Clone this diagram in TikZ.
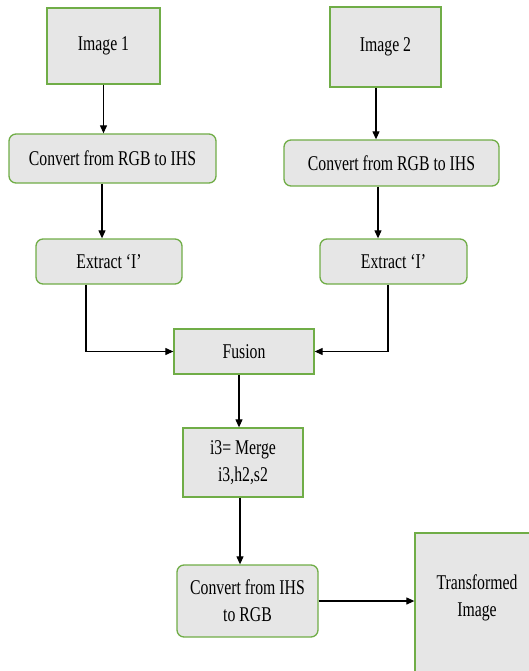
\documentclass[tikz,border=0pt]{standalone}
\usepackage{fontspec}
\setmainfont[FakeStretch=0.75]{Liberation Serif}
\usetikzlibrary{arrows.meta}
\definecolor{boxgreen}{HTML}{70AD47}
\definecolor{boxgray}{HTML}{E6E6E6}

\begin{document}
\begin{tikzpicture}[x=1pt, y=-1pt,
    box/.style={draw=boxgreen, fill=boxgray, line width=1.3pt, align=center,
        inner sep=2pt, font=\fontsize{21}{27}\selectfont},
    rbox/.style={box, rounded corners=7pt},
    arr/.style={black, line width=1.1pt, -{Triangle[length=8pt,width=7pt]}}]
    \useasboundingbox (0,0) rectangle (529,671);
    \clip (0,0) rectangle (529,671);
    % left branch
    \node[box, minimum width=113pt, minimum height=76pt] (img1) at (103.5,46) {Image 1};
    \node[rbox, minimum width=207pt, minimum height=49pt] (conv1) at (112.5,158.5) {Convert from RGB to IHS};
    \node[rbox, minimum width=146pt, minimum height=45pt] (ext1) at (109,261.5) {Extract ‘I’};
    % right branch
    \node[box, minimum width=111pt, minimum height=80pt] (img2) at (385.5,47) {Image 2};
    \node[rbox, minimum width=215pt, minimum height=46pt] (conv2) at (391.5,163) {Convert from RGB to IHS};
    \node[rbox, minimum width=147pt, minimum height=45pt] (ext2) at (393.5,261.5) {Extract ‘I’};
    % middle
    \node[box, minimum width=140pt, minimum height=45pt] (fusion) at (244,351.5) {Fusion};
    \node[box, minimum width=120pt, minimum height=69pt] (merge) at (243,462.5) {i3= Merge\\i3,h2,s2};
    \node[rbox, minimum width=141pt, minimum height=72pt] (conv3) at (247.5,601) {Convert from IHS\\to RGB};
    \node[box, minimum width=124pt, minimum height=156pt, text depth=30pt] (trans) at (477,611) {Transformed\\Image};
    % arrows
    \draw[arr] (img1.south) -- (img1.south |- conv1.north);
    \draw[arr] ([xshift=-7pt]ext1.north |- conv1.south) -- ([xshift=-7pt]ext1.north);
    \draw[arr] (img2.south -| 376,0) -- (conv2.north -| 376,0);
    \draw[arr] (conv2.south -| 378,0) -- (ext2.north -| 378,0);
    \draw[arr] ([xshift=-23pt]ext1.south) |- (fusion.west);
    \draw[arr] ([xshift=-5.5pt]ext2.south) |- (fusion.east);
    \draw[arr] ([xshift=-5pt]fusion.south) -- ([xshift=-4pt]merge.north);
    \draw[arr] ([xshift=-3pt]merge.south) -- ([xshift=-7.5pt]conv3.north);
    \draw[arr] (conv3.east) -- (conv3.east -| trans.west);
\end{tikzpicture}
\end{document}
